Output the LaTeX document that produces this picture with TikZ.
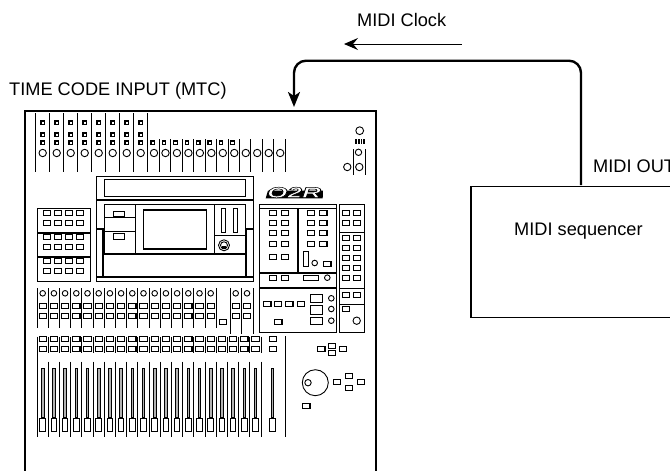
\documentclass[tikz,border=0pt]{standalone}
\usepackage{fontspec}
\setmainfont{Liberation Sans}
\usetikzlibrary{arrows.meta, positioning, calc}

\begin{document}
\begin{tikzpicture}[
    x=1pt, y=-1pt,
    txt/.style={inner sep=0pt, anchor=base west, font=\fontsize{18.2}{20}\selectfont},
    panelline/.style={draw=black, line width=1pt},
    thickline/.style={draw=black, line width=1.7pt},
    stripline/.style={draw=black, line width=0.9pt},
    btn/.style={rectangle, draw=black, line width=1.1pt, fill=white, inner sep=0pt,
                minimum width=7.3pt, minimum height=4.8pt},
    led/.style={rectangle, draw=black, line width=1.1pt, fill=white, inner sep=0pt,
                minimum width=3.4pt, minimum height=3.4pt},
    knob/.style={circle, draw=black, line width=0.9pt, fill=white, inner sep=0pt,
                 minimum size=7.4pt},
    smallknob/.style={knob, minimum size=5.6pt},
    fadercap/.style={rectangle, draw=black, line width=1pt, fill=white, inner sep=0pt,
                minimum width=5.6pt, minimum height=13pt},
    track/.style={rectangle, draw=black, line width=0.7pt, fill=black!30, inner sep=0pt,
                  minimum width=2.6pt, minimum height=49pt},
    seqbox/.style={rectangle, draw=black, line width=1.5pt, inner sep=0pt},
    clockline/.style={-{Stealth[length=15pt, width=12pt, inset=4pt]}, line width=2.4pt,
                      rounded corners=12pt},
    clockarrow/.style={-{Stealth[length=14pt, width=12pt, inset=5pt]}, line width=1pt},
]
\useasboundingbox (0,0) rectangle (670,471);

% --- Labels ---
\node[txt] (clocklabel) at (357,27) {MIDI Clock};
\node[txt] (mtclabel) at (9,95) {TIME CODE INPUT (MTC)};
\node[txt] (outlabel) at (593,172.7) {MIDI OUT};

% --- Console body, open at the bottom ---
\node[rectangle, draw=none, minimum width=351pt, minimum height=370pt, inner sep=0pt,
      anchor=north west] (console) at (24.5,111) {};
\draw[line width=2pt] (console.south west) -- (console.north west)
    -- (console.north east) -- (console.south east);

% --- MIDI sequencer ---
\node[seqbox, minimum width=215pt, minimum height=131pt, anchor=north west] (seq) at (470,185.7) {};
\node[txt] (seqlabel) at (514,235) {MIDI sequencer};

% --- Top strips ---
\foreach \i in {0,...,8}
    \draw[stripline] ({35.7+14*\i},113) -- ({35.7+14*\i},171.7);
\foreach \i in {1,...,12}
    \draw[stripline] ({147.7+11.47*\i},139.3) -- ({147.7+11.47*\i},171.7);
\foreach \i in {0,...,7} {
    \node[knob] (a\i) at ({42.7+14*\i},153) {};
    \node[led] at ({42.7+14*\i},122.7) {};
    \node[led] at ({42.7+14*\i},134.7) {};
    \node[led] at ({42.7+14*\i},142.7) {};
    \node[led] at ({152.7+11.4*\i},142.7) {};
}
\foreach \i in {0,...,11}
    \node[knob] (b\i) at ({154+11.47*\i},153) {};

% --- Top right corner ---
\node[knob, minimum size=7.8pt] (phones) at (359.7,130.7) {};
\foreach \i in {0,...,3}
    \fill ({355.2+2.7*\i},138.7) rectangle ++(1.6,5);
\draw[stripline] (353.3,149.3) -- (353.3,175.3);
\draw[stripline] (365,149.3) -- (365,175.3);
\node[knob, minimum size=6.4pt] (trimc) at (358.5,152.3) {};
\node[knob] (triml) at (347.3,167) {};
\node[knob] (trimr) at (359.3,167) {};

% --- Display unit ---
\draw[panelline] (96.3,176.7) rectangle (253.3,281.7);
\draw[panelline] (104.7,179) rectangle (245.3,196.7);
\draw[thickline] (96.3,200) -- (253.3,200);
\draw[panelline] (104.7,204.7) rectangle (245.3,253.3);
\draw[panelline] (135.3,204.7) -- (135.3,253.3);
\draw[panelline] (214,204.7) -- (214,253.3);
\draw[panelline] (104.7,217.7) -- (135.3,217.7);
\draw[panelline] (104.7,231) -- (135.3,231);
\draw[panelline] (113.3,211.7) rectangle (124.3,216.7);
\draw[panelline] (113.3,233.7) rectangle (124.3,239.3);
\draw[line width=1.2pt] (143.3,210) rectangle (206.7,249);
\draw[panelline] (221.3,208.3) rectangle (225.7,232.7);
\draw[panelline] (233,208.3) rectangle (237.3,232.7);
\draw[panelline] (214,235.7) -- (245.3,235.7);
\node[knob, minimum size=11pt] (dial) at (224,245.3) {};
\node[knob, minimum size=7pt] (dialin) at (224,245.3) {};
\fill (221.6,245.5) rectangle (226.4,249);
\draw[thickline] (96.3,228.7) -- (103.3,228.7) -- (103.3,276.7);
\draw[thickline] (253.3,228.7) -- (246,228.7) -- (246,276.7);
\draw[thickline] (103.3,254.5) -- (246,254.5);
\draw[thickline] (96.3,276.7) -- (253.3,276.7);

% --- Left button group ---
\draw[panelline] (37,208.7) rectangle (90,281.3);
\draw[thickline] (37,233) -- (90,233);
\draw[thickline] (37,257.2) -- (90,257.2);
\foreach \x in {46.7,57.7,69,80}
    \foreach \y in {212.7,222.7,236.7,246.7,261,271.3}
        \node[btn] at (\x,\y) {};

% --- Logo ---
\fill (268,190.5) -- (323,190.5) -- (322.7,198.3) -- (265.7,198.3) -- cycle;
\node[inner sep=0pt, text=white, font=\fontsize{15}{15}\selectfont\bfseries\itshape] (logo) at (294,192.5)
    {\scalebox{1.75}[1]{\special{pdf:code 2 Tr 0.5 w 0 0 0 RG}O2R\special{pdf:code 0 Tr}}};

% --- Channel knobs ---
\foreach \i in {0,...,16}
    \draw[stripline] ({37+11.2*\i},288.3) -- ({37+11.2*\i},328.3);
\foreach \i in {0,...,15} {
    \node[smallknob] at ({42.7+11.2*\i},293.3) {};
    \node[btn] at ({42.7+11.2*\i},305.7) {};
    \node[btn] at ({42.7+11.2*\i},316.3) {};
}
\foreach \x in {230,241.7,253}
    \draw[stripline] (\x,288.3) -- (\x,334);
\foreach \x in {235.7,247} {
    \node[smallknob] at (\x,293.3) {};
    \node[btn] at (\x,305.7) {};
    \node[btn] at (\x,316.3) {};
}
\node[btn] at (223,321.7) {};

% --- Faders ---
\draw[stripline] (37,336.7) -- (37,437);
\foreach \i in {1,...,20} {
    \draw[stripline] ({37+11.2*\i},336.7) -- ({37+11.2*\i},353);
    \draw[stripline] ({37+11.2*\i},361.7) -- ({37+11.2*\i},437);
}
\foreach \i in {0,...,19} {
    \node[btn] at ({42.7+11.2*\i},339) {};
    \node[btn] at ({42.7+11.2*\i},349) {};
    \node[track] at ({42.7+11.2*\i},393) {};
    \node[fadercap] at ({42.7+11.2*\i},424.8) {};
}
\node[btn] at (273,339) {};
\node[btn] at (273,349) {};
\node[track] at (272.5,393) {};
\node[fadercap] at (272.5,424.8) {};
\draw[stripline] (285,336.3) -- (285,437.3);

% --- Wheel and keys ---
\node[btn] at (321.3,349.3) {};
\node[btn] at (332,345.7) {};
\node[btn] at (332,353) {};
\node[btn] at (343,349.3) {};
\node[knob, minimum size=26pt] (wheel) at (315.3,382.7) {};
\node[knob, minimum size=6.4pt] (wheelin) at (308,382.7) {};
\node[btn] at (336.7,382.3) {};
\node[btn] at (348.7,376.3) {};
\node[btn] at (348.7,387.7) {};
\node[btn] at (360.7,382.3) {};
\node[btn] at (306.3,405.7) {};

% --- Right section ---
\draw[panelline] (259.7,204) rectangle (336.3,332.3);
\draw[panelline] (259.7,208.3) -- (336.3,208.3);
\draw[thickline] (298.3,208.3) -- (298.3,273);
\draw[thickline] (259.7,273.3) -- (336.3,273.3);
\draw[thickline] (259.7,288) -- (336.3,288);
\foreach \x in {272.7,285}
    \foreach \y in {213.3,223.3,233.3,244,257.3,277.7}
        \node[btn] at (\x,\y) {};
\foreach \x in {311,323.3}
    \foreach \y in {213.3,223.3,233.3,244}
        \node[btn] at (\x,\y) {};
\draw[panelline] (303,251.7) rectangle (308.3,266.7);
\node[smallknob] at (314.7,263) {};
\node[btn] at (327.3,263.7) {};
\draw[panelline] (303.3,275.7) rectangle (318.3,280.3);
\node[smallknob] at (327.3,277.7) {};
\foreach \x in {267.3,278,289.3,300.7}
    \node[btn] at (\x,304) {};
\node[btn] at (278.3,322) {};
\draw[panelline] (310.3,294.3) rectangle (322.3,302.7);
\draw[panelline] (310.3,305.7) rectangle (322.3,314);
\draw[panelline] (310.3,317) rectangle (322.3,324.3);
\foreach \y in {298.3,309,320.7}
    \node[smallknob] at (331.3,\y) {};

% --- Right column ---
\draw[panelline] (339,204) rectangle (364.3,332.3);
\draw[panelline] (339,232.3) -- (364.3,232.3);
\draw[panelline] (339,288) -- (364.3,288);
\draw[panelline] (339,304.7) -- (364.3,304.7);
\foreach \x in {346,356.7}
    \foreach \y in {213.3,223.3,237.7,247.7,257.7,267.7,277.7,295.3}
        \node[btn] at (\x,\y) {};
\node[btn] at (346,309.3) {};
\node[knob] at (356.7,320.7) {};

% --- Arrows ---
\coordinate (midiout) at (581,185);
\coordinate (mtcin) at (294,107);
\coordinate (clockstart) at (461.7,44);
\coordinate (clockend) at (344,44);
\draw[clockline] (midiout) |- (294,60.7) -- (mtcin);
\draw[clockarrow] (clockstart) -- (clockend);

\end{tikzpicture}
\end{document}
